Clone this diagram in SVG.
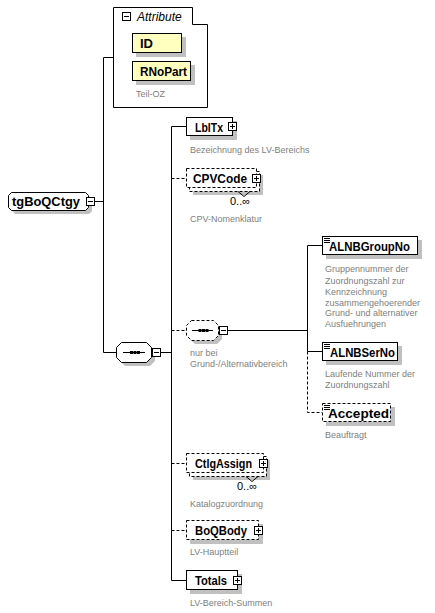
<svg xmlns="http://www.w3.org/2000/svg" width="435" height="613" viewBox="0 0 435 613">
<style>
.bx{fill:#fff;stroke:#000;stroke-width:1}
.yl{fill:#ffffc0;stroke:#000;stroke-width:1}
.dh{stroke-dasharray:3,2}
.sh{fill:#c0c0c0;stroke:none}
.ln{stroke:#000;stroke-width:1;fill:none}
.nm{font-family:"Liberation Sans",Arial,sans-serif;font-weight:bold;font-size:13px;fill:#000}
.ds{font-family:"Liberation Sans",Arial,sans-serif;font-size:9px;fill:#808080}
.oc{font-family:"Liberation Sans",Arial,sans-serif;font-size:11px;fill:#000}
.it{font-family:"Liberation Sans",Arial,sans-serif;font-style:italic;font-size:12px;fill:#000}
</style>
<defs>
<g id="pl"><rect x="0.5" y="0.5" width="8" height="8" fill="#fff" stroke="#000"/><path d="M2,4.5H7M4.5,2V7" stroke="#000"/></g>
<g id="mi"><rect x="0.5" y="0.5" width="8" height="8" fill="#fff" stroke="#000"/><path d="M2,4.5H7" stroke="#000"/></g>
<g id="doc"><path d="M0,0.5H6M0,2.5H6M0,4.5H6" stroke="#000"/></g>
</defs>
<g id="connectors">
<path class="ln" d="M95,201.5H103.5M103.5,57.5V352.5M103.5,57.5H113M103.5,352.5H116"/>
<path class="ln" d="M161,352.5H171.5M171.5,126.5V580.5M171.5,126.5H186M171.5,580.5H186"/>
<path class="ln dh" d="M171.5,178.5H186M171.5,330.5H186M171.5,463.5H186M171.5,530.5H186"/>
<path class="ln" d="M228,330.5H307.5M307.5,245.5V351.5M307.5,245.5H322M307.5,351.5H322"/>
<path class="ln dh" d="M307.5,351.5V412.5H322"/>
</g>
<g id="attributes">
<path class="bx" d="M113.5,7.5H192.5V24.5H207.5V107.5H113.5Z"/>
<use href="#mi" x="122" y="12"/>
<text class="it" x="137" y="21">Attribute</text>
<g id="ID">
<rect class="sh" x="136" y="37" width="50" height="20"/>
<rect class="yl" x="132.5" y="33.5" width="49" height="19"/>
<text class="nm" x="140" y="48" textLength="13" lengthAdjust="spacingAndGlyphs">ID</text>
</g>
<g id="RNoPart">
<rect class="sh" x="136" y="65" width="59" height="20"/>
<rect class="yl" x="132.5" y="61.5" width="58" height="19"/>
<text class="nm" x="140" y="76" textLength="47" lengthAdjust="spacingAndGlyphs">RNoPart</text>
<text class="ds" x="136" y="97">Teil-OZ</text>
</g>
</g>
<g id="tgBoQCtgy">
<path class="sh" d="M15,196H89L92,199V211L89,214H15L12,211V199Z"/>
<path class="bx" d="M11.5,192.5H85.5L88.5,195.5V207.5L85.5,210.5H11.5L8.5,207.5V195.5Z"/>
<text class="nm" x="12" y="206" textLength="68" lengthAdjust="spacingAndGlyphs">tgBoQCtgy</text>
<use href="#mi" x="86" y="197"/>
</g>
<g id="sequence">
<path class="sh" d="M125,346H150L155,351V361L150,366H125L120,361V351Z"/>
<path class="bx" d="M121.5,342.5H146.5L151.5,347.5V357.5L146.5,362.5H121.5L116.5,357.5V347.5Z"/>
<path class="ln" d="M123,352.5H145"/>
<rect x="130" y="351" width="3" height="3" fill="#000"/>
<rect x="133.5" y="351" width="3" height="3" fill="#000"/>
<rect x="137" y="351" width="3" height="3" fill="#000"/>
<use href="#mi" x="152" y="348"/>
</g>
<g id="LblTx">
<rect class="sh" x="190" y="121" width="47" height="19"/>
<rect class="bx" x="186.5" y="117.5" width="46" height="18"/>
<text class="nm" x="195" y="131.5" textLength="28" lengthAdjust="spacingAndGlyphs">LblTx</text>
<use href="#pl" x="228" y="122"/>
<text class="ds" x="190" y="153">Bezeichnung des LV-Bereichs</text>
</g>
<g id="CPVCode">
<rect class="sh" x="193" y="175" width="70" height="20"/>
<path class="bx dh" d="M256.5,171.5H259.5V191.5H189.5V188"/>
<rect class="bx dh" x="186.5" y="168.5" width="70" height="19"/>
<text class="nm" x="193" y="182.5" textLength="54" lengthAdjust="spacingAndGlyphs">CPVCode</text>
<use href="#pl" x="252" y="174"/>
<path class="ln" d="M238,191.5L244,196.5L250,191.5"/>
<text class="oc" x="230" y="205">0..∞</text>
<text class="ds" x="190" y="222">CPV-Nomenklatur</text>
</g>
<g id="choiceSeq">
<path class="sh" d="M195,324H217L222,329V339L217,344H195L190,339V329Z"/>
<path class="bx dh" d="M191.5,320.5H213.5L218.5,325.5V335.5L213.5,340.5H191.5L186.5,335.5V325.5Z"/>
<path class="ln" d="M192,330.5H213"/>
<rect x="198.5" y="329" width="3" height="3" fill="#000"/>
<rect x="202" y="329" width="3" height="3" fill="#000"/>
<rect x="205.5" y="329" width="3" height="3" fill="#000"/>
<use href="#mi" x="219" y="326"/>
<text class="ds" x="190" y="356">nur bei</text>
<text class="ds" x="190" y="367">Grund-/Alternativbereich</text>
</g>
<g id="ALNBGroupNo">
<rect class="sh" x="326" y="240" width="96" height="19"/>
<rect class="bx" x="322.5" y="236.5" width="95" height="18"/>
<use href="#doc" x="324" y="238"/>
<text class="nm" x="329" y="250.5" textLength="81" lengthAdjust="spacingAndGlyphs">ALNBGroupNo</text>
<text class="ds" x="325"><tspan x="325" y="272">Gruppennummer der</tspan><tspan x="325" y="283.5">Zuordnungszahl zur</tspan><tspan x="325" y="294.5">Kennzeichnung</tspan><tspan x="325" y="305.5">zusammengehoerender</tspan><tspan x="325" y="316">Grund- und alternativer</tspan><tspan x="325" y="327">Ausfuehrungen</tspan></text>
</g>
<g id="ALNBSerNo">
<rect class="sh" x="326" y="346" width="76" height="19"/>
<rect class="bx" x="322.5" y="342.5" width="75" height="18"/>
<use href="#doc" x="324" y="344"/>
<text class="nm" x="330" y="356.5" textLength="65" lengthAdjust="spacingAndGlyphs">ALNBSerNo</text>
<text class="ds" x="325" y="377">Laufende Nummer der</text>
<text class="ds" x="325" y="388">Zuordnungszahl</text>
</g>
<g id="Accepted">
<rect class="sh" x="326" y="407" width="69" height="19"/>
<rect class="bx dh" x="322.5" y="403.5" width="68" height="18"/>
<use href="#doc" x="324" y="405"/>
<text class="nm" x="328" y="417.5" textLength="61" lengthAdjust="spacingAndGlyphs">Accepted</text>
<text class="ds" x="325" y="438">Beauftragt</text>
</g>
<g id="CtlgAssign">
<rect class="sh" x="193" y="460" width="77" height="20"/>
<path class="bx dh" d="M263.5,456.5H266.5V476.5H189.5V473"/>
<rect class="bx dh" x="186.5" y="453.5" width="77" height="19"/>
<text class="nm" x="195" y="467.5" textLength="57" lengthAdjust="spacingAndGlyphs">CtlgAssign</text>
<use href="#pl" x="259" y="459"/>
<path class="ln" d="M246,476.5L252,481.5L258,476.5"/>
<text class="oc" x="237" y="490">0..∞</text>
<text class="ds" x="190" y="507">Katalogzuordnung</text>
</g>
<g id="BoQBody">
<rect class="sh" x="190" y="524" width="73" height="20"/>
<rect class="bx dh" x="186.5" y="520.5" width="72" height="19"/>
<text class="nm" x="195" y="534.5" textLength="52" lengthAdjust="spacingAndGlyphs">BoQBody</text>
<use href="#pl" x="254" y="526"/>
<text class="ds" x="190" y="555">LV-Hauptteil</text>
</g>
<g id="Totals">
<rect class="sh" x="190" y="574" width="52" height="20"/>
<rect class="bx" x="186.5" y="570.5" width="51" height="19"/>
<text class="nm" x="195" y="584.5" textLength="32" lengthAdjust="spacingAndGlyphs">Totals</text>
<use href="#pl" x="233" y="576"/>
<text class="ds" x="190" y="606">LV-Bereich-Summen</text>
</g>
</svg>
